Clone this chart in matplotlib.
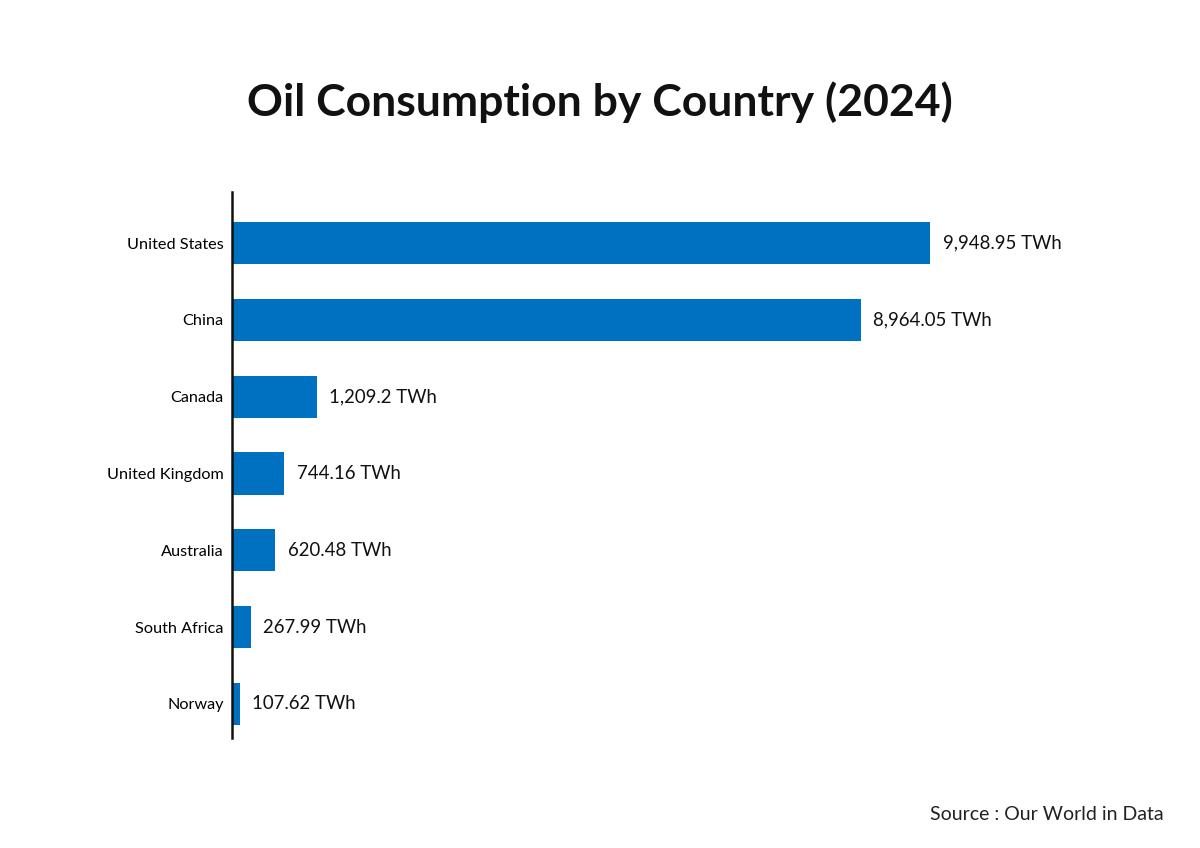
import matplotlib.pyplot as plt

plt.rcParams['font.family'] = ['Lato', 'DejaVu Sans']

countries = ["United States", "China", "Canada", "United Kingdom", "Australia", "South Africa", "Norway"]
consumption = [9948.95, 8964.05, 1209.2, 744.16, 620.48, 267.99, 107.62]
value_labels = ["9,948.95 TWh", "8,964.05 TWh", "1,209.2 TWh", "744.16 TWh", "620.48 TWh", "267.99 TWh", "107.62 TWh"]

fig = plt.figure(figsize=(12, 8.48), dpi=100)
ax = fig.add_axes([0.1933, 0.1297, 0.7234, 0.6439])

pos = list(range(len(countries)))
bars = ax.barh(pos, consumption, height=0.55, color="#0070C0")

for bar, lab in zip(bars, value_labels):
    ax.annotate(lab, (bar.get_width(), bar.get_y() + bar.get_height() / 2),
                xytext=(9, 0), textcoords="offset points",
                ha="left", va="center", fontsize=13.4, color="#111111")

ax.set_yticks(pos)
ax.set_yticklabels(countries, fontsize=11.7)
ax.set_ylim(6.443, -0.664)
ax.set_xlim(0, 12372)
ax.set_xticks([])
ax.tick_params(axis="y", length=0, pad=6)

for s in ["top", "right", "bottom"]:
    ax.spines[s].set_visible(False)
ax.spines["left"].set_linewidth(1.8)
ax.spines["left"].set_color("#111111")

fig.text(0.5, 0.88, "Oil Consumption by Country (2024)", ha="center", va="center",
         fontsize=32, fontweight="bold", color="#111111")
fig.text(0.97, 0.04, "Source : Our World in Data", ha="right", va="center",
         fontsize=14, color="#222222")

fig.savefig("out.png", dpi=100, facecolor="white")
